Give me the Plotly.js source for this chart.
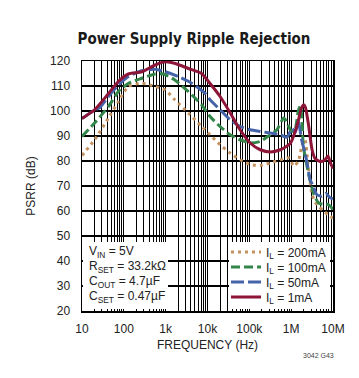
<!DOCTYPE html>
<html>
<head>
<meta charset="utf-8">
<script src="https://cdn.plot.ly/plotly-3.0.1.min.js"></script>
<style>html,body{margin:0;padding:0;background:#fff;}#chart{width:359px;height:378px;}</style>
</head>
<body>
<div id="chart"></div>
<script>
// Frequency (Hz) and PSRR (dB)
const freq200 = [10, 20, 43, 74, 129, 269, 562, 977, 1660, 3470, 7240, 11500, 19950, 34670, 60260, 104700, 182000, 316000, 550000, 871000, 1170000, 1480000, 1660000, 1820000, 2140000, 2510000, 3090000, 3720000, 4470000, 5890000, 7590000, 10000000];
const psrr200 = [82.2, 88.5, 97.2, 103.8, 109.8, 111.1, 109.8, 108.4, 104.5, 99.2, 93.8, 90.5, 86.5, 83.2, 80.5, 78.6, 78.2, 79.2, 80.5, 81.2, 77.9, 80.0, 83.2, 86.5, 88.5, 79.0, 67.3, 63.5, 62.0, 60.0, 58.6, 57.0];

const freq100 = [10, 20, 43, 74, 129, 269, 562, 890, 1660, 3470, 7240, 11500, 19950, 34670, 60260, 104700, 182000, 316000, 457000, 660000, 760000, 955000, 1120000, 1260000, 1480000, 1660000, 1820000, 1950000, 2570000, 3390000, 4470000, 5890000, 7760000, 10000000];
const psrr100 = [89.8, 95.2, 101.8, 107.8, 111.1, 113.1, 114.8, 114.8, 112.4, 107.8, 102.5, 97.8, 93.8, 90.5, 88.5, 87.2, 87.8, 90.5, 92.5, 97.2, 96.0, 92.5, 91.8, 93.0, 100.0, 102.0, 96.0, 86.0, 75.3, 67.3, 63.3, 62.6, 62.6, 60.6];

const freq50 = [10, 20, 27, 43, 74, 129, 269, 562, 977, 2000, 4200, 8700, 11500, 19950, 34670, 60260, 104700, 182000, 316000, 550000, 794000, 1050000, 1260000, 1480000, 1780000, 2140000, 2570000, 2820000, 3390000, 4070000, 5370000, 6760000, 8510000, 10000000];
const psrr50 = [97.0, 100.3, 101.5, 105.8, 110.4, 113.8, 116.1, 116.7, 115.7, 113.8, 111.1, 107.1, 104.5, 100.5, 96.5, 93.8, 92.5, 91.8, 91.2, 90.5, 89.5, 93.0, 91.5, 96.0, 88.5, 83.2, 76.6, 72.6, 69.9, 66.6, 65.9, 67.0, 65.3, 64.9];

const freq1 = [10, 20, 43, 74, 128, 270, 560, 980, 1700, 3500, 7200, 11500, 20000, 35000, 60000, 105000, 182000, 316000, 550000, 955000, 1200000, 1480000, 1740000, 2000000, 2190000, 2570000, 3160000, 3720000, 4900000, 6300000, 7600000, 8700000, 10000000];
const psrr1 = [97.0, 100.5, 107.0, 111.8, 114.8, 115.7, 118.4, 119.7, 119.0, 117.0, 115.0, 111.0, 105.8, 99.2, 92.5, 87.2, 84.5, 83.6, 84.5, 87.0, 91.0, 96.0, 101.0, 102.5, 101.5, 95.0, 84.5, 81.0, 79.8, 80.3, 82.0, 79.2, 77.0];

const seriesNames = ['I<sub>L</sub> = 200mA', 'I<sub>L</sub> = 100mA', 'I<sub>L</sub> = 50mA', 'I<sub>L</sub> = 1mA'];
const xTickVals = [10, 100, 1000, 10000, 100000, 1000000, 10000000];
const xTickText = ['10', '100', '1k', '10k', '100k', '1M', '10M'];
const conditions = ['V<sub>IN</sub> = 5V', 'R<sub>SET</sub> = 33.2kΩ', 'C<sub>OUT</sub> = 4.7µF', 'C<sub>SET</sub> = 0.47µF'];

const FONT = 'Liberation Sans, Arial, Helvetica, sans-serif';
const colors = ['#c4925e', '#33854a', '#4563a8', '#8c1538'];
const dashes = ['3px,4px', '9px,4px', '13px,4px', 'solid'];
const xs = [freq200, freq100, freq50, freq1];
const ys = [psrr200, psrr100, psrr50, psrr1];
const legendIds = ['legend', 'legend2', 'legend3', 'legend4'];

const traces = xs.map((x, i) => ({
  x: x, y: ys[i], type: 'scatter', mode: 'lines', name: seriesNames[i],
  line: {color: colors[i], width: 3, dash: dashes[i], shape: 'spline', smoothing: 0.6},
  legend: legendIds[i], hoverinfo: 'skip'
}));

// plot area in px: x 82..333, y 61..311
const px2x = p => (p - 82) / 251;
const px2y = p => (311 - p) / 250;
const rowY = [252, 267, 282, 297];

const layout = {
  width: 359, height: 378,
  margin: {l: 82, r: 26, t: 61, b: 67},
  paper_bgcolor: '#fff', plot_bgcolor: '#fff',
  font: {family: FONT, size: 12, color: '#222'},
  title: {
    text: 'Power Supply Ripple Rejection',
    font: {family: 'DejaVu Sans Condensed, Liberation Sans Narrow, Arial Narrow, sans-serif', size: 15, weight: 'bold', color: '#1a1a1a'},
    xref: 'container', yref: 'container', x: 194 / 359, xanchor: 'center', y: 1 - 39 / 378, yanchor: 'middle'
  },
  xaxis: {
    type: 'log', range: [1, 7], tickmode: 'array', tickvals: xTickVals, ticktext: xTickText,
    showgrid: true, gridcolor: '#000', gridwidth: 1.2,
    minor: {dtick: 'D1', showgrid: true, gridcolor: '#000', gridwidth: 1, ticks: ''},
    showline: true, mirror: true, linecolor: '#000', linewidth: 1.5,
    ticks: '', ticklabelstandoff: 6, zeroline: false,
    tickfont: {size: 12, color: '#222'},
    title: {text: 'FREQUENCY (Hz)', font: {size: 12, color: '#222'}, standoff: 5}
  },
  yaxis: {
    range: [20, 120], dtick: 10, tick0: 20,
    showgrid: true, gridcolor: '#000', gridwidth: 1.2,
    showline: true, mirror: true, linecolor: '#000', linewidth: 1.5,
    ticks: '', ticklabelstandoff: 8, zeroline: false,
    tickfont: {size: 12, color: '#222'},
    title: {text: 'PSRR (dB)', font: {size: 12, color: '#222'}, standoff: 12}
  },
  shapes: [
    {type: 'rect', xref: 'paper', yref: 'paper', layer: 'above', x0: px2x(83), x1: px2x(168), y0: px2y(309), y1: px2y(242), fillcolor: '#fff', line: {width: 0}},
    {type: 'rect', xref: 'paper', yref: 'paper', layer: 'above', x0: px2x(229), x1: px2x(330), y0: px2y(309), y1: px2y(242), fillcolor: '#fff', line: {width: 0}}
  ],
  annotations: conditions.map((t, i) => ({
    text: t, xref: 'paper', yref: 'paper', x: px2x(87), y: px2y(rowY[i]), xanchor: 'left', yanchor: 'middle',
    showarrow: false, font: {size: 12, color: '#222'}
  })).concat([{
    text: '3042 G43', xref: 'paper', yref: 'paper', x: px2x(318), y: px2y(355), xanchor: 'center', yanchor: 'middle',
    showarrow: false, font: {size: 7, color: '#444'}
  }]),
  showlegend: true
};
legendIds.forEach((id, i) => {
  layout[id] = {
    x: px2x(226), xanchor: 'left', y: px2y(rowY[i]), yanchor: 'middle',
    bgcolor: 'rgba(0,0,0,0)', borderwidth: 0, font: {size: 12, color: '#222'},
    itemclick: false, itemdoubleclick: false
  };
});

Plotly.newPlot('chart', traces, layout, {displayModeBar: false, staticPlot: true});
</script>
</body>
</html>
